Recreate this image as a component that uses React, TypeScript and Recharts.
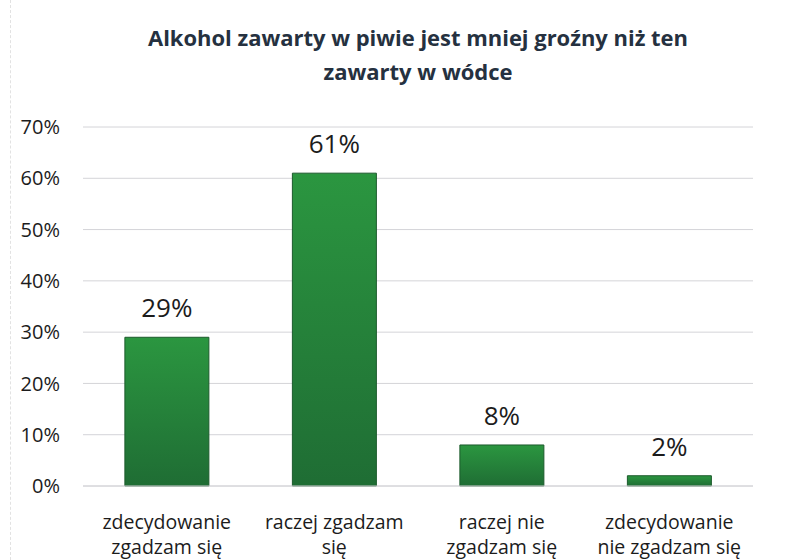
import React from "react";
import { BarChart, Bar, XAxis, YAxis, CartesianGrid, LabelList } from "recharts";

const categories = [
  "zdecydowanie\nzgadzam się",
  "raczej zgadzam\nsię",
  "raczej nie\nzgadzam się",
  "zdecydowanie\nnie zgadzam się",
];
const values = [29, 61, 8, 2];
const yTicks = [0, 10, 20, 30, 40, 50, 60, 70];
const titleLines = ["Alkohol zawarty w piwie jest mniej groźny niż ten", "zawarty w wódce"];

const data = categories.map((c, i) => ({ name: c, value: values[i] }));

const FONT = "'Open Sans', sans-serif";

const XTick = (props: any) => {
  const { x, y, payload } = props;
  const lines = String(payload.value).split("\n");
  return (
    <text
      x={x}
      y={y + 35}
      textAnchor="middle"
      fontFamily={FONT}
      fontSize={19.5}
      fill="#1c1c1c"
    >
      {lines.map((l: string, i: number) => (
        <tspan key={i} x={x} dy={i === 0 ? 0 : 25}>
          {l}
        </tspan>
      ))}
    </text>
  );
};

export default function App() {
  return (
    <div style={{ position: "absolute", left: 0, top: 0, width: 803, height: 560, background: "#fff" }}>
      <div style={{ position: "absolute", left: 10, top: 0, width: 0, height: 560, borderLeft: "1px dashed #e2e2e2" }} />
      <BarChart
        width={803}
        height={560}
        data={data}
        margin={{ top: 127, right: 50, left: 0, bottom: 0 }}
        barCategoryGap="25%"
      >
        <defs>
          <linearGradient id="barGrad" x1="0" y1="0" x2="0" y2="1">
            <stop offset="0%" stopColor="#2b9640" />
            <stop offset="100%" stopColor="#1f6d34" />
          </linearGradient>
        </defs>
        <text
          x={418}
          y={46}
          textAnchor="middle"
          fontFamily={FONT}
          fontWeight="bold"
          fontSize={22}
          fill="#253140"
          textLength={540}
          lengthAdjust="spacingAndGlyphs"
        >
          {titleLines[0]}
        </text>
        <text
          x={418}
          y={80}
          textAnchor="middle"
          fontFamily={FONT}
          fontWeight="bold"
          fontSize={22}
          fill="#253140"
        >
          {titleLines[1]}
        </text>
        <CartesianGrid vertical={false} stroke="#d4d4d8" strokeWidth={1} />
        <XAxis
          dataKey="name"
          axisLine={{ stroke: "#d4d4d8" }}
          tickLine={false}
          height={74}
          interval={0}
          tick={<XTick />}
        />
        <YAxis
          width={83}
          domain={[0, 70]}
          ticks={yTicks}
          axisLine={false}
          tickLine={false}
          tickSize={0}
          tickMargin={23}
          tickFormatter={(v: number) => `${v}%`}
          tick={{ fontFamily: FONT, fontSize: 20, fill: "#1c1c1c" }}
        />
        <Bar dataKey="value" fill="url(#barGrad)" stroke="#1c5a2c" strokeWidth={1} isAnimationActive={false}>
          <LabelList
            dataKey="value"
            position="top"
            offset={20}
            formatter={(v: any) => `${v}%`}
            style={{ fontFamily: FONT, fontSize: 26, fill: "#1c1c1c" }}
          />
        </Bar>
      </BarChart>
    </div>
  );
}
